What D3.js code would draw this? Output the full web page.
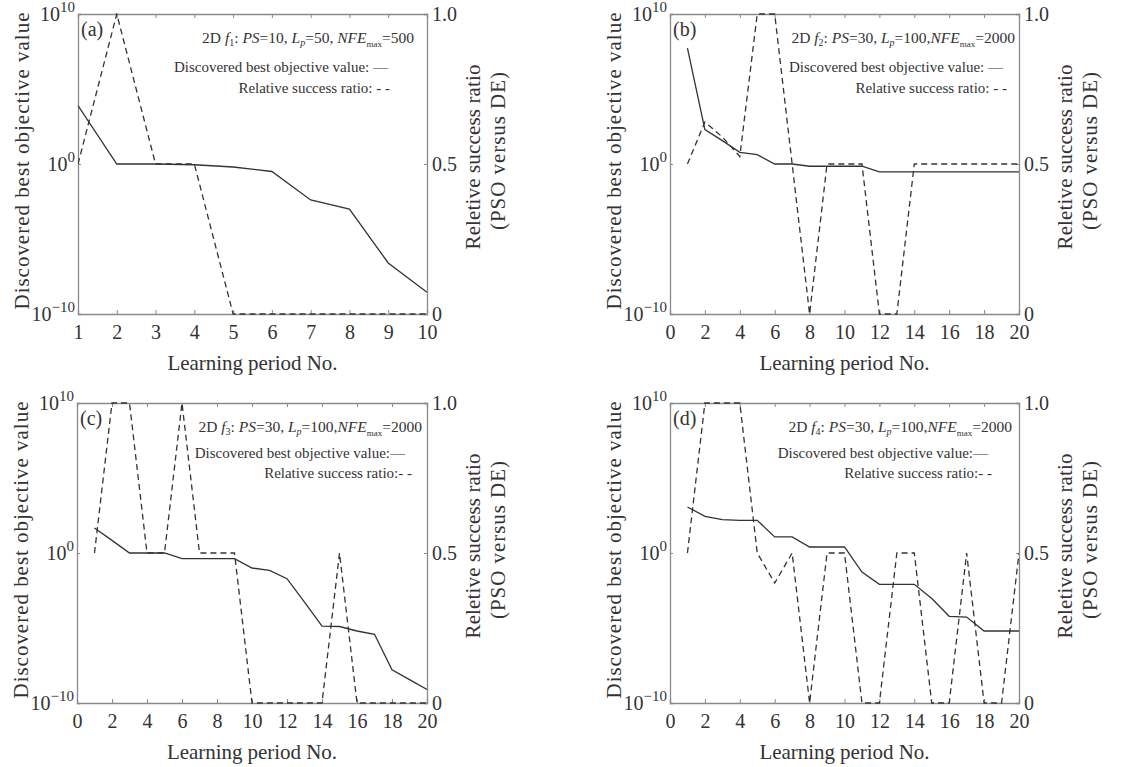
<!DOCTYPE html>
<html><head><meta charset="utf-8">
<script src="https://cdn.jsdelivr.net/npm/d3@7"></script>
<style>body{margin:0;background:#fff}svg{display:block}</style>
</head><body><svg id="c" width="1141" height="767"></svg>
<script>
// ---- data ----
const xA = [1,2,3,4,5,6,7,8,9,10];
const xB = d3.range(1,21);
// best objective value (log10 exponent)
const bestA = [3.9, 0, 0, -0.05, -0.2, -0.5, -2.4, -3.0, -6.6, -8.55];
const ratioA = [0.5, 1.0, 0.5, 0.5, 0, 0, 0, 0, 0, 0];
const bestB = [7.73, 2.29, 1.56, 0.78, 0.62, 0, 0, -0.15, -0.15, -0.15, -0.15, -0.53, -0.53, -0.53, -0.53, -0.53, -0.53, -0.53, -0.53, -0.53];
const ratioB = [0.5, 0.64, 0.59, 0.525, 1.0, 1.0, 0.5, 0, 0.5, 0.5, 0.5, 0, 0, 0.5, 0.5, 0.5, 0.5, 0.5, 0.5, 0.5];
const bestC = [1.67, 0.84, 0, 0, 0, -0.38, -0.38, -0.38, -0.38, -1.0, -1.16, -1.71, -3.27, -4.87, -4.9, -5.2, -5.42, -7.78, -8.44, -9.1];
const ratioC = [0.5, 1.0, 1.0, 0.5, 0.5, 1.0, 0.5, 0.5, 0.5, 0, 0, 0, 0, 0, 0.5, 0, 0, 0, 0, 0];
const bestD = [3.07, 2.44, 2.22, 2.18, 2.18, 1.07, 1.07, 0.4, 0.4, 0.4, -1.27, -2.09, -2.09, -2.09, -3.04, -4.22, -4.27, -5.2, -5.2, -5.2];
const ratioD = [0.5, 1.0, 1.0, 1.0, 0.5, 0.4, 0.5, 0, 0.5, 0.5, 0, 0, 0.5, 0.5, 0, 0, 0.5, 0, 0, 0.5];
const ticksA = [1,2,3,4,5,6,7,8,9,10];
const ticksB = [0,2,4,6,8,10,12,14,16,18,20];
const leftTicks = [-10, 0, 10];
const rightTicks = [0, 0.5, 1.0];
const panelLabels = ["(a)","(b)","(c)","(d)"];
const funcs = ["1","2","3","4"];
const psVals = ["10","30","30","30"];
const lpVals = ["50","100","100","100"];
const nfeVals = ["500","2000","2000","2000"];
const xLabel = "Learning period No.";
const yLabel = "Discovered best objective value";
const y2Label1 = "Reletive success ratio";
const y2Label2 = "(PSO versus DE)";
const legend1 = "Discovered best objective value:";
const legend2 = "Relative success ratio:";

const FONT = "Liberation Serif";
const svg = d3.select("#c");
const axisCol = "#8a8a8a", lineCol = "#333";

const panels = [
  {x:xA, best:bestA, ratio:ratioA, ticks:ticksA, dom:[1,10], box:[78,14,427,314], comma:true, gap:" ",
   leg:[[-13,29],[-39,58],[-37,79]]},
  {x:xB, best:bestB, ratio:ratioB, ticks:ticksB, dom:[0,20], box:[670,14,1019,314], comma:false, gap:" ",
   leg:[[-4,29],[-16,58],[-12,79]]},
  {x:xB, best:bestC, ratio:ratioC, ticks:ticksB, dom:[0,20], box:[77,403,427,703], comma:false, gap:"",
   leg:[[-5,29],[-22,55],[-15,75]]},
  {x:xB, best:bestD, ratio:ratioD, ticks:ticksB, dom:[0,20], box:[670,403,1019,703], comma:false, gap:"",
   leg:[[-7,29],[-31,55],[-27,75]]}
];

panels.forEach((p,i)=>{
  const [L,T,R,B] = p.box;
  const g = svg.append("g");
  const x = d3.scaleLinear().domain(p.dom).range([L,R]);
  const yL = d3.scaleLog().domain([1e-10,1e10]).range([B,T]);
  const yR = d3.scaleLinear().domain([0,1]).range([B,T]);
  const clip = "clip"+i;
  svg.append("clipPath").attr("id",clip).append("rect").attr("x",L).attr("y",T-1).attr("width",R-L).attr("height",B-T+2);

  const xb = g.append("g").attr("transform",`translate(0,${B})`)
    .call(d3.axisBottom(x).tickValues(p.ticks).tickSize(-4).tickPadding(11).tickFormat(d3.format("d")));
  const xt = g.append("g").attr("transform",`translate(0,${T})`)
    .call(d3.axisTop(x).tickValues(p.ticks).tickSize(-4).tickFormat(""));
  const yl = g.append("g").attr("transform",`translate(${L},0)`)
    .call(d3.axisLeft(yL).tickValues(leftTicks.map(e=>Math.pow(10,e))).tickSize(-3).tickFormat(""));
  const yr = g.append("g").attr("transform",`translate(${R},0)`)
    .call(d3.axisRight(yR).tickValues(rightTicks).tickSize(-3).tickPadding(6).tickFormat(d=>d===0?"0":d3.format(".1f")(d)));
  [xb,xt,yl,yr].forEach(a=>{
    a.attr("font-family",null);
    a.select(".domain").attr("stroke",axisCol).attr("stroke-width",1.3);
    a.selectAll(".tick line").attr("stroke",axisCol);
    a.selectAll("text").style("font-size","20px").attr("fill","#333");
  });
  xb.selectAll("text").attr("dy","0.72em");
  yr.selectAll("text").attr("dy","0.33em").attr("x",5);

  leftTicks.forEach(e=>{
    const t = g.append("text").attr("x",L-3).attr("y",yL(Math.pow(10,e))+7)
      .attr("text-anchor","end").style("font-size","20px");
    t.append("tspan").text("10");
    t.append("tspan").attr("dy",-9).style("font-size","15px").text(e<0?"\u2212"+(-e):String(e));
  });

  const lineBest = d3.line().x((d,k)=>x(p.x[k])).y(d=>yL(Math.pow(10,d)));
  const lineRatio = d3.line().x((d,k)=>x(p.x[k])).y(d=>yR(d));
  g.append("path").attr("d",lineRatio(p.ratio)).attr("fill","none").attr("stroke",lineCol)
    .attr("stroke-width",1.3).attr("stroke-dasharray","6,4").attr("clip-path",`url(#${clip})`);
  g.append("path").attr("d",lineBest(p.best)).attr("fill","none").attr("stroke",lineCol)
    .attr("stroke-width",1.3).attr("clip-path",`url(#${clip})`);

  g.append("text").attr("x",L+3).attr("y",T+22).style("font-size","20px").text(panelLabels[i]);

  const t1 = g.append("text").attr("x",R+p.leg[0][0]).attr("y",T+p.leg[0][1]).attr("text-anchor","end").style("font-size","15.5px");
  t1.append("tspan").text("2D ");
  t1.append("tspan").style("font-style","italic").text("f");
  t1.append("tspan").attr("dy",3).style("font-size","10px").text(funcs[i]);
  t1.append("tspan").attr("dy",-3).text(": ");
  t1.append("tspan").style("font-style","italic").text("PS");
  t1.append("tspan").text("="+psVals[i]+", ");
  t1.append("tspan").style("font-style","italic").text("L");
  t1.append("tspan").attr("dy",3).style("font-size","10px").style("font-style","italic").text("p");
  t1.append("tspan").attr("dy",-3).text("="+lpVals[i]+(p.comma?", ":","));
  t1.append("tspan").style("font-style","italic").text("NFE");
  t1.append("tspan").attr("dy",4).style("font-size","9px").text("max");
  t1.append("tspan").attr("dy",-4).text("="+nfeVals[i]);
  g.append("text").attr("x",R+p.leg[1][0]).attr("y",T+p.leg[1][1]).attr("text-anchor","end").style("font-size","15px")
    .text(legend1+p.gap+"\u2014");
  g.append("text").attr("x",R+p.leg[2][0]).attr("y",T+p.leg[2][1]).attr("text-anchor","end").style("font-size","15px")
    .text(legend2+p.gap+"- -");

  g.append("text").attr("x",(L+R)/2).attr("y",B+56).attr("text-anchor","middle").style("font-size","21px")
    .attr("textLength",170).attr("lengthAdjust","spacing").text(xLabel);
  g.append("text").attr("transform",`translate(${L-49},${(T+B)/2-3}) rotate(-90)`).attr("text-anchor","middle")
    .style("font-size","21px").attr("textLength",297).attr("lengthAdjust","spacing").text(yLabel);
  g.append("text").attr("transform",`translate(${R+53},${(T+B)/2-7}) rotate(-90)`).attr("text-anchor","middle")
    .style("font-size","21px").attr("textLength",185).attr("lengthAdjust","spacing").text(y2Label1);
  g.append("text").attr("transform",`translate(${R+78},${(T+B)/2-13}) rotate(-90)`).attr("text-anchor","middle")
    .style("font-size","21px").attr("textLength",158).attr("lengthAdjust","spacing").text(y2Label2);
});
svg.selectAll("text").style("font-family",FONT).style("fill","#333");
</script></body></html>
